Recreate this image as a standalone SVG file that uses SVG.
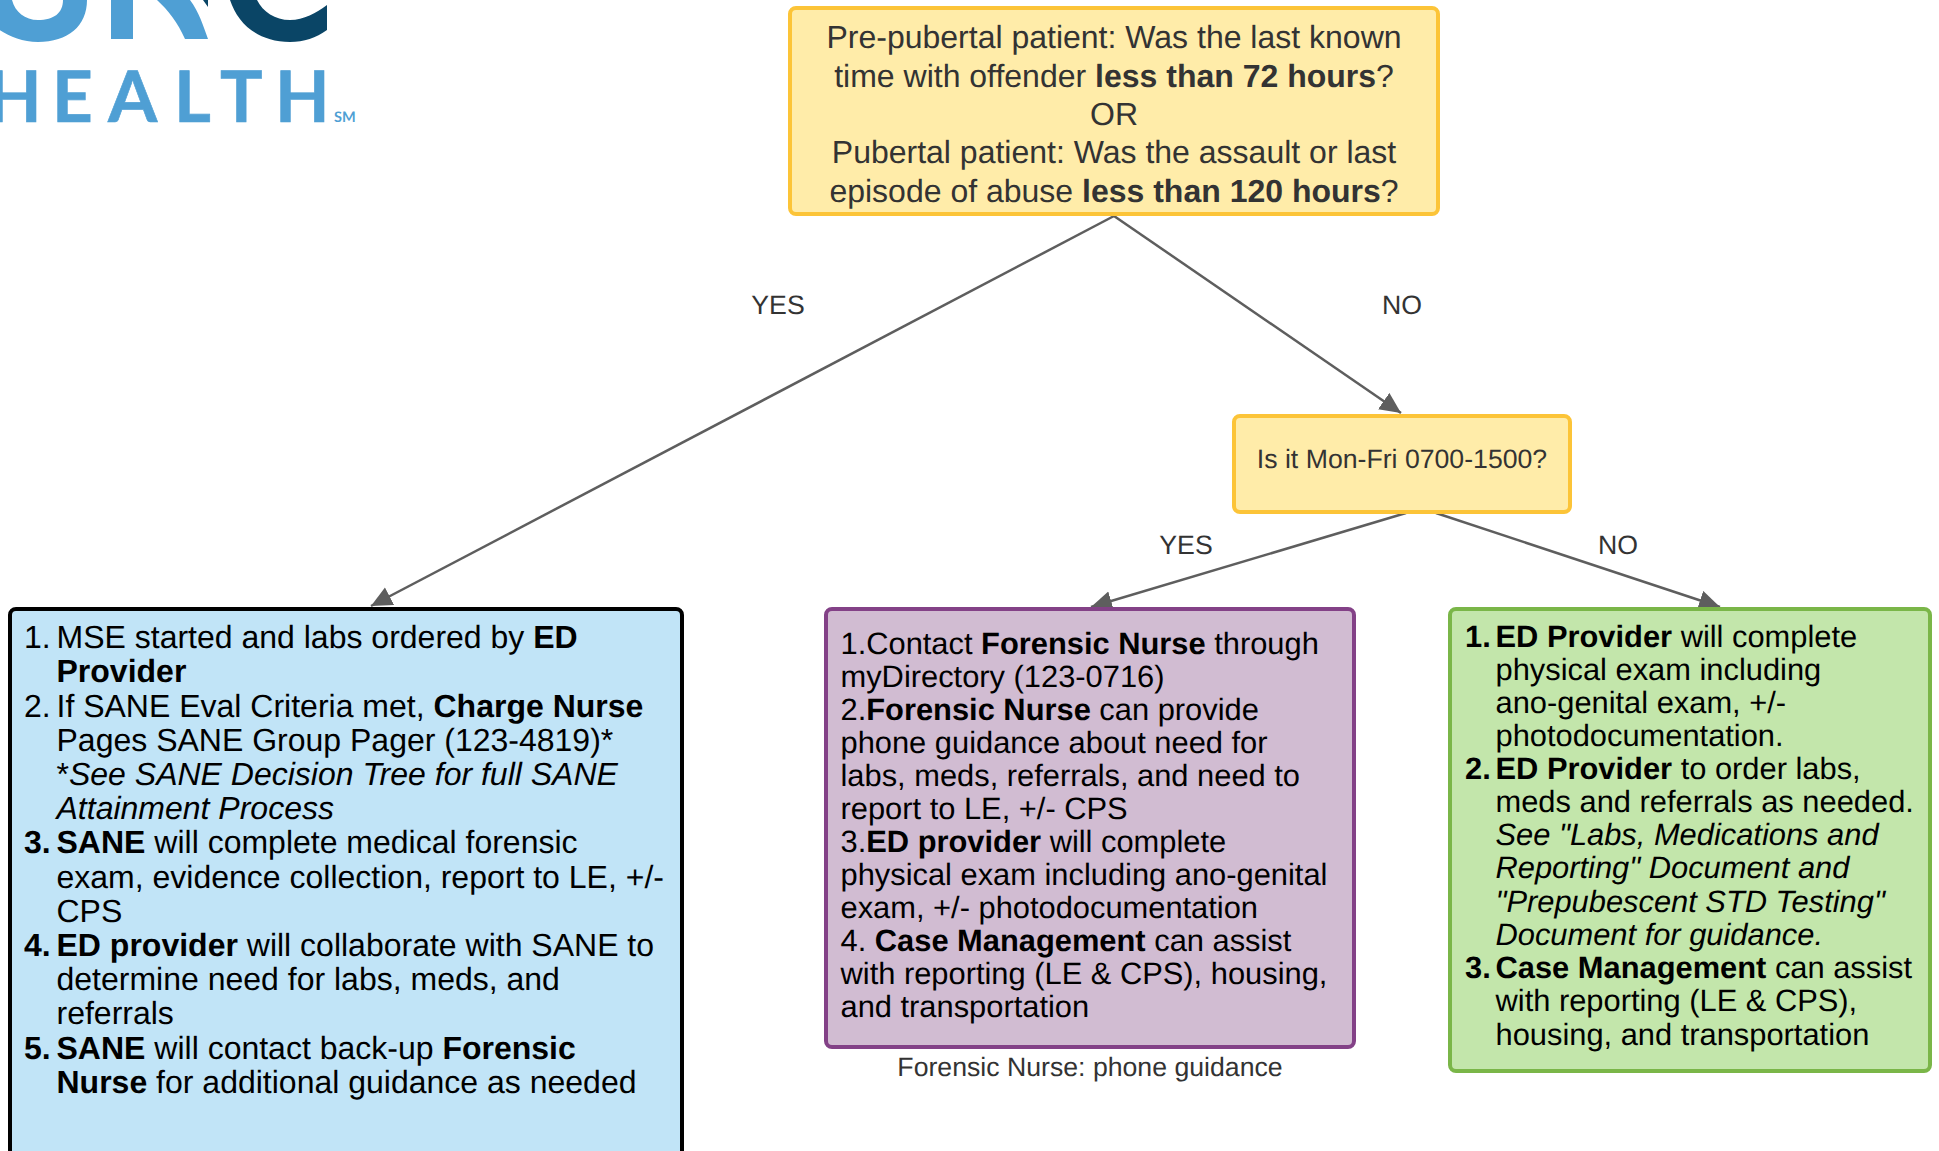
<svg xmlns="http://www.w3.org/2000/svg" width="1939" height="1151" viewBox="0 0 1939 1151">
<defs>
<style>
text{font-family:"Liberation Sans",Arial,sans-serif;text-rendering:geometricPrecision}
.q{fill:#333;font-size:32px;text-anchor:middle}
.l{fill:#333;font-size:26.67px;text-anchor:middle}
.b{fill:#000;font-size:32px}
.p{fill:#000;font-size:30.85px}
.s{font-weight:700}
.i{font-style:italic}
.c{stroke:#5e5e5e;stroke-width:2.5;fill:none;marker-end:url(#a)}
.y{fill:#ffeca9;stroke:#fcc438;stroke-width:4}
</style>
<marker id="a" markerUnits="userSpaceOnUse" markerWidth="24" markerHeight="22" refX="21" refY="10" orient="auto"><path d="M0 0L21 10L0 20Z" fill="#5e5e5e"/></marker>
</defs>
<rect width="1939" height="1151" fill="#fff"/>
<g id="logo">
<path fill="#4f9fd4" d="M-2 29C8 36 22 42 38 42C68 42 87 26 87 0H63C63 13 54 20 38 20C25 20 15 12 12 0H-2Z"/>
<path fill="#4f9fd4" d="M111 0H133V39H111ZM157 0H190C199 12 203 25 208 39H185C178 23 168 10 157 0Z"/>
<path fill="#0a4566" d="M203 0H208V7ZM230 0H257C263 12 275 20 290 20C304 20 316 13 327 5V30C316 38 304 42 290 42C258 42 238 24 230 0Z"/>
<text x="-13 52 108 174 220 275" y="122" fill="#4f9fd4" stroke="#4f9fd4" stroke-width="0.6" style="font-family:Lato,'Liberation Sans',sans-serif;font-size:71px;font-weight:700">HEALTH</text>
<text x="334" y="122" fill="#4f9fd4" style="font-family:Lato,'Liberation Sans',sans-serif;font-size:14.5px;font-weight:700">SM</text>
</g>
<g id="connectors">
<path class="c" d="M1114 216L371 606"/>
<path class="c" d="M1114 216L1401 413"/>
<path class="c" d="M1406 513L1091 607"/>
<path class="c" d="M1436 513L1720 607"/>
</g>
<g id="edge-labels">
<text class="l" x="778" y="314">YES</text>
<text class="l" x="1402" y="314">NO</text>
<text class="l" x="1186" y="554">YES</text>
<text class="l" x="1618" y="554">NO</text>
</g>
<g id="q1">
<rect class="y" x="790" y="8" width="648" height="206" rx="6"/>
<text class="q" x="1114" y="48">Pre-pubertal patient: Was the last known</text>
<text class="q" x="1114" y="87">time with offender <tspan class="s">less than 72 hours</tspan>?</text>
<text class="q" x="1114" y="125">OR</text>
<text class="q" x="1114" y="163">Pubertal patient: Was the assault or last</text>
<text class="q" x="1114" y="202">episode of abuse <tspan class="s">less than 120 hours</tspan>?</text>
</g>
<g id="q2">
<rect class="y" x="1234" y="416" width="336" height="96" rx="6"/>
<text class="l" x="1402" y="468">Is it Mon-Fri 0700-1500?</text>
</g>
<g id="sane">
<rect x="10" y="609" width="672" height="560" rx="6" fill="#c1e4f7" stroke="#000" stroke-width="4"/>
<g class="b">
<text x="24" y="648">1.</text><text x="56.5" y="648">MSE started and labs ordered by <tspan class="s">ED</tspan></text>
<text class="s" x="56.5" y="682">Provider</text>
<text x="24" y="716.5">2.</text><text x="56.5" y="716.5">If SANE Eval Criteria met, <tspan class="s">Charge Nurse</tspan></text>
<text x="56.5" y="751">Pages SANE Group Pager (123-4819)*</text>
<text x="56.5" y="785">*<tspan class="i">See SANE Decision Tree for full SANE</tspan></text>
<text class="i" x="56.5" y="819">Attainment Process</text>
<text class="s" x="24" y="853">3.</text><text x="56.5" y="853"><tspan class="s">SANE</tspan> will complete medical forensic</text>
<text x="56.5" y="887.5">exam, evidence collection, report to LE, +/-</text>
<text x="56.5" y="922">CPS</text>
<text class="s" x="24" y="956">4.</text><text x="56.5" y="956"><tspan class="s">ED provider</tspan> will collaborate with SANE to</text>
<text x="56.5" y="990">determine need for labs, meds, and</text>
<text x="56.5" y="1024">referrals</text>
<text class="s" x="24" y="1058.5">5.</text><text x="56.5" y="1058.5"><tspan class="s">SANE</tspan> will contact back-up <tspan class="s">Forensic</tspan></text>
<text x="56.5" y="1093"><tspan class="s">Nurse</tspan> for additional guidance as needed</text>
</g>
</g>
<g id="forensic">
<rect x="826" y="609" width="528" height="438" rx="6" fill="#d1bcd2" stroke="#834187" stroke-width="4"/>
<g class="p">
<text x="840.5" y="654">1.Contact <tspan class="s">Forensic Nurse</tspan> through</text>
<text x="840.5" y="687">myDirectory (123-0716)</text>
<text x="840.5" y="720">2.<tspan class="s">Forensic Nurse</tspan> can provide</text>
<text x="840.5" y="753">phone guidance about need for</text>
<text x="840.5" y="786">labs, meds, referrals, and need to</text>
<text x="840.5" y="819">report to LE, +/- CPS</text>
<text x="840.5" y="852">3.<tspan class="s">ED provider</tspan> will complete</text>
<text x="840.5" y="885">physical exam including ano-genital</text>
<text x="840.5" y="918">exam, +/- photodocumentation</text>
<text x="840.5" y="951">4. <tspan class="s">Case Management</tspan> can assist</text>
<text x="840.5" y="984">with reporting (LE &amp; CPS), housing,</text>
<text x="840.5" y="1017">and transportation</text>
</g>
<text class="l" x="1090" y="1076">Forensic Nurse: phone guidance</text>
</g>
<g id="ed">
<rect x="1450" y="609" width="480" height="462" rx="6" fill="#c3e6ab" stroke="#7ab648" stroke-width="4"/>
<g class="p">
<text class="s" x="1465" y="647">1.</text><text x="1495.5" y="647"><tspan class="s">ED Provider</tspan> will complete</text>
<text x="1495.5" y="680">physical exam including</text>
<text x="1495.5" y="713">ano-genital exam, +/-</text>
<text x="1495.5" y="746">photodocumentation.</text>
<text class="s" x="1465" y="779">2.</text><text x="1495.5" y="779"><tspan class="s">ED Provider</tspan> to order labs,</text>
<text x="1495.5" y="812">meds and referrals as needed.</text>
<text class="i" x="1495.5" y="845">See "Labs, Medications and</text>
<text class="i" x="1495.5" y="878">Reporting" Document and</text>
<text class="i" x="1495.5" y="911.5">"Prepubescent STD Testing"</text>
<text class="i" x="1495.5" y="945">Document for guidance.</text>
<text class="s" x="1465" y="978">3.</text><text x="1495.5" y="978"><tspan class="s">Case Management</tspan> can assist</text>
<text x="1495.5" y="1011">with reporting (LE &amp; CPS),</text>
<text x="1495.5" y="1044.5">housing, and transportation</text>
</g>
</g>
</svg>
